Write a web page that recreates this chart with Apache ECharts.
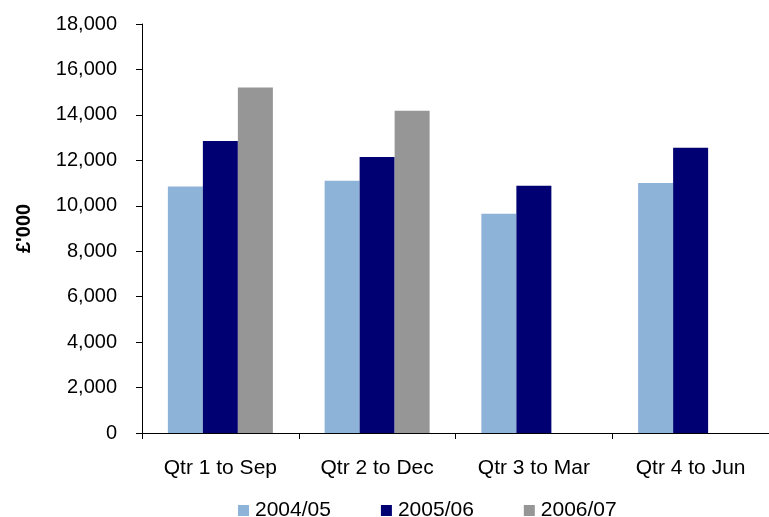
<!DOCTYPE html>
<html>
<head>
<meta charset="utf-8">
<script src="https://cdn.jsdelivr.net/npm/echarts@6/dist/echarts.min.js"></script>
<style>
  html, body { margin: 0; padding: 0; background: #fff; }
  #chart { width: 769px; height: 517px; }
</style>
</head>
<body>
<div id="chart"></div>
<script>
// Quarterly figures, £'000
const quarters = ['Qtr 1 to Sep', 'Qtr 2 to Dec', 'Qtr 3 to Mar', 'Qtr 4 to Jun'];
const seriesNames = ['2004/05', '2005/06', '2006/07'];
const values0405 = [10850, 11100, 9650, 11000];
const values0506 = [12850, 12150, 10880, 12550];
const values0607 = [15200, 14180, null, null];
const seriesColors = ['#8eb3d9', '#000072', '#969696'];

const font = 'Arial, "Liberation Sans", sans-serif';
const chart = echarts.init(document.getElementById('chart'));

chart.setOption({
  animation: false,
  backgroundColor: '#fff',
  textStyle: { fontFamily: font },
  grid: { left: 142, top: 24, width: 634, height: 409, containLabel: false },
  legend: {
    data: seriesNames,
    left: 233,
    top: 495,
    icon: 'rect',
    itemWidth: 11,
    itemHeight: 11,
    itemGap: 50,
    textStyle: { fontFamily: font, fontSize: 21, color: '#000', padding: [0, 0, 0, 1] }
  },
  xAxis: {
    type: 'category',
    data: quarters,
    axisLine: { lineStyle: { color: '#000', width: 1 } },
    axisTick: { show: true, length: 6, lineStyle: { color: '#000' } },
    axisLabel: { color: '#000', fontSize: 21, fontFamily: font, margin: 25 }
  },
  yAxis: {
    type: 'value',
    min: 0,
    max: 18000,
    interval: 2000,
    name: "£'000",
    nameLocation: 'middle',
    nameGap: 108,
    nameRotate: 90,
    nameTextStyle: { fontFamily: font, fontSize: 20, fontWeight: 'bold', color: '#000' },
    axisLine: { show: true, lineStyle: { color: '#000', width: 1 } },
    axisTick: { show: true, length: 6, lineStyle: { color: '#000' } },
    splitLine: { show: false },
    axisLabel: {
      color: '#000', fontSize: 20, fontFamily: font, margin: 25,
      formatter: v => v.toLocaleString('en-GB')
    }
  },
  series: [values0405, values0506, values0607].map((vals, i) => ({
    name: seriesNames[i],
    type: 'bar',
    data: vals,
    barGap: '0%',
    barCategoryGap: '33%',
    itemStyle: { color: seriesColors[i] }
  }))
});
</script>
</body>
</html>
